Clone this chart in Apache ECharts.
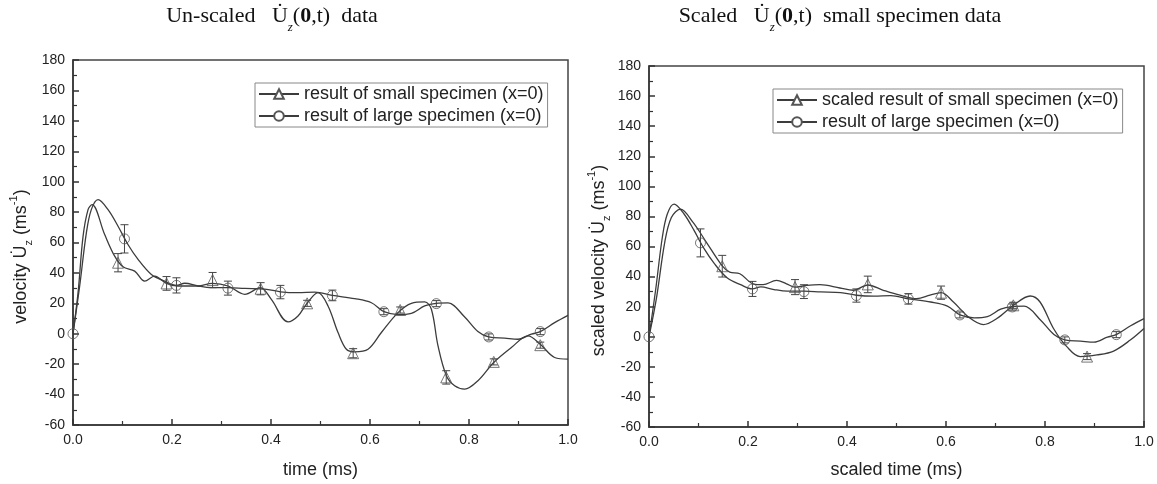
<!DOCTYPE html>
<html><head><meta charset="utf-8">
<script src="https://cdn.jsdelivr.net/npm/echarts@6/dist/echarts.min.js"></script>
<style>html,body{margin:0;padding:0;background:#fff}#c{width:1157px;height:484px}</style>
</head><body><div id="c"></div>
<script>
// ---------------- data ----------------
const xTicks = [0, 0.2, 0.4, 0.6, 0.8, 1.0];
const yTicks = [-60, -40, -20, 0, 20, 40, 60, 80, 100, 120, 140, 160, 180];

const leftTitle = 'Un-scaled';
const rightTitle = 'Scaled';
const leftTitleTail = 'data';
const rightTitleTail = 'small specimen data';

const nameSmall = 'result of small specimen (x=0)';
const nameLarge = 'result of large specimen (x=0)';
const nameScaledSmall = 'scaled result of small specimen (x=0)';

// smooth curves [time, velocity]
const smallCurve = [[0,0],[0.0102,27],[0.0203,64],[0.0304,81.6],[0.0385,84.9],[0.064,65.2],[0.0842,51],[0.101,44],[0.1246,41.2],[0.1448,34.6],[0.165,37.9],[0.1886,33.1],[0.212,31.4],[0.2526,31.4],[0.2815,33.1],[0.3134,31.4],[0.347,25.9],[0.3785,30.3],[0.4007,22.6],[0.4344,7.8],[0.4546,11.7],[0.4727,20],[0.495,27],[0.5152,18.3],[0.5354,0.8],[0.5523,-10.2],[0.569,-11.9],[0.596,-10.2],[0.623,0.8],[0.6566,13.9],[0.6836,20],[0.7105,20.9],[0.724,16.1],[0.7374,-8],[0.7543,-27.6],[0.771,-34.2],[0.7913,-36.4],[0.818,-30.9],[0.85,-18.9],[0.8856,-9.1],[0.919,-1.4],[0.944,-6.9],[0.973,-15.6],[1.0,-16.7]];
const largeCurve = [[0,0],[0.0135,31.4],[0.027,66.3],[0.037,81.6],[0.0506,88.2],[0.0708,81.6],[0.091,70.7],[0.111,58.7],[0.1314,48.9],[0.1583,39],[0.185,34.6],[0.2088,31.8],[0.2257,33.2],[0.2526,31.4],[0.2795,30.3],[0.3134,30.3],[0.347,29.8],[0.3873,29.4],[0.419,27.6],[0.4546,27],[0.4883,27.4],[0.524,25.2],[0.569,23.1],[0.6028,20.4],[0.6283,14.5],[0.6566,12.6],[0.6836,13.4],[0.7105,18.3],[0.734,20],[0.7576,20.3],[0.7913,11],[0.818,1.5],[0.8398,-2.1],[0.872,-2.9],[0.899,-3.6],[0.926,-0.3],[0.944,1.4],[0.973,7.3],[1.0,12.1]];
const scaledSmallCurve = [[0,0],[0.0149,25.3],[0.0318,62.8],[0.0452,79.3],[0.0634,84.8],[0.089,76],[0.116,62.8],[0.1484,46.9],[0.163,43],[0.1835,41.9],[0.2105,35.2],[0.2306,34.6],[0.2576,37.5],[0.2778,35.2],[0.2947,33],[0.3183,34.1],[0.3453,34.6],[0.3857,32.4],[0.4127,30.9],[0.4417,34.4],[0.4733,30.9],[0.507,27.6],[0.5408,25.3],[0.5678,27.6],[0.59,29.3],[0.615,23.1],[0.6453,13.2],[0.6757,8.1],[0.7026,12.1],[0.7363,20.9],[0.77,27.1],[0.79,23.1],[0.8172,5.5],[0.844,-6.6],[0.871,-13.2],[0.905,-12.1],[0.9386,-9.5],[0.9723,-2.2],[1.0,5.5]];

// markers with error bars
const smallMarkT = [0.091, 0.189, 0.282, 0.379, 0.473, 0.566, 0.661, 0.754, 0.850, 0.944];
const smallMarkV = [46.7, 33.1, 35.3, 29.6, 20, -12.8, 15.6, -28.7, -18.5, -7.5];
const smallMarkE = [6, 4.5, 5, 4, 2, 3, 2, 4.4, 2, 2];
const largeMarkT = [0, 0.104, 0.209, 0.313, 0.419, 0.524, 0.628, 0.734, 0.840, 0.944];
const largeMarkV = [0, 62.4, 31.8, 30, 27.4, 25.2, 14.5, 19.8, -2.1, 1.4];
const largeMarkE = [0, 9.3, 5, 4.6, 4.4, 3.5, 2, 2, 2, 2];
const scaledMarkT = [0.148, 0.295, 0.442, 0.590, 0.736, 0.885];
const scaledMarkV = [46.9, 33, 34.8, 29.3, 20.9, -13.2];
const scaledMarkE = [7.2, 5, 5.5, 4.4, 2, 2];

// ---------------- chart ----------------
const FF = "'Liberation Sans', Arial, 'DejaVu Sans', sans-serif";
const TF = "'Liberation Serif', 'Times New Roman', serif";
const LINE = '#3c3c3c', MARK = '#555';

function xAx(gi, name, gap) {
  return {type:'value', gridIndex:gi, min:xTicks[0], max:xTicks[xTicks.length-1], interval:xTicks[1]-xTicks[0],
    name:name, nameLocation:'middle', nameGap:gap,
    nameTextStyle:{fontSize:18, color:'#222', fontFamily:FF},
    axisLine:{show:true, onZero:false, lineStyle:{color:'#333', width:1.5}},
    axisTick:{show:true, inside:true, length:6, lineStyle:{color:'#333', width:1.5}},
    minorTick:{show:true, splitNumber:2, length:4, lineStyle:{color:'#333', width:1.2}},
    axisLabel:{fontSize:14, color:'#222', fontFamily:FF, margin:8, formatter:v=>v.toFixed(1)},
    splitLine:{show:false}};
}
function yAx(gi, prefix, gap) {
  return {type:'value', gridIndex:gi, min:yTicks[0], max:yTicks[yTicks.length-1], interval:yTicks[1]-yTicks[0],
    name: prefix + '{u|U\u0307}{s|z} (ms{p|-1})', nameLocation:'middle', nameGap:gap,
    nameTextStyle:{fontSize:18, color:'#222', fontFamily:FF, lineHeight:26, padding:[0,28,0,0],
      rich:{u:{fontSize:18, fontFamily:FF, color:'#222', lineHeight:26},
            s:{fontSize:11, fontFamily:FF, color:'#222', lineHeight:11, verticalAlign:'bottom'},
            p:{fontSize:11, fontFamily:FF, color:'#222', lineHeight:11, verticalAlign:'top'}}},
    axisLine:{show:true, onZero:false, lineStyle:{color:'#333', width:1.5}},
    axisTick:{show:true, inside:true, length:6, lineStyle:{color:'#333', width:1.5}},
    minorTick:{show:true, splitNumber:2, length:4, lineStyle:{color:'#333', width:1.2}},
    axisLabel:{fontSize:14, color:'#222', fontFamily:FF, margin:8},
    splitLine:{show:false}};
}
function curve(gi, name, data, sym) {
  return {type:'line', name:name, xAxisIndex:gi, yAxisIndex:gi, data:data, smooth:0.35,
    showSymbol:false, symbol:sym, symbolSize:11, silent:true, z:2,
    lineStyle:{color:LINE, width:1.3}, itemStyle:{color:MARK, borderColor:MARK, borderWidth:1}};
}
function marks(gi, T, V, sym, size) {
  return {type:'scatter', xAxisIndex:gi, yAxisIndex:gi, symbol:sym, symbolSize:size, silent:true, z:4,
    data:T.map((t,i)=>[t, V[i]]),
    itemStyle:{color:'rgba(255,255,255,0)', borderColor:MARK, borderWidth:1}};
}
function errs(gi, T, V, E) {
  return {type:'custom', xAxisIndex:gi, yAxisIndex:gi, silent:true, z:3,
    data:T.map((t,i)=>[t, V[i]-E[i], V[i]+E[i]]).filter((d,i)=>E[i]>0),
    renderItem:function(params, api){
      const lo = api.coord([api.value(0), api.value(1)]);
      const hi = api.coord([api.value(0), api.value(2)]);
      const w = 4, st = {stroke:'#444', lineWidth:1};
      return {type:'group', children:[
        {type:'line', shape:{x1:lo[0], y1:lo[1], x2:hi[0], y2:hi[1]}, style:st},
        {type:'line', shape:{x1:lo[0]-w, y1:lo[1], x2:lo[0]+w, y2:lo[1]}, style:st},
        {type:'line', shape:{x1:hi[0]-w, y1:hi[1], x2:hi[0]+w, y2:hi[1]}, style:st}
      ]};
    }};
}
function titleText(x, head, tail) {
  return {type:'text', x:x, y:16, silent:true, style:{
    text: head + '   {u|U\u0307}{z|z}{n|(}{b|0}{n|,t)}  ' + tail,
    font: '22px ' + TF, fill:'#111', align:'center', verticalAlign:'middle', lineHeight:36,
    rich:{u:{fontSize:22, fontFamily:TF, lineHeight:36, fill:'#111'},
          z:{fontSize:13, fontFamily:TF, fontStyle:'italic', lineHeight:13, verticalAlign:'bottom', fill:'#111'},
          n:{fontSize:22, fontFamily:TF, lineHeight:36, fill:'#111'},
          b:{fontSize:22, fontFamily:TF, fontWeight:'bold', lineHeight:36, fill:'#111'}}}};
}
const legendBase = {orient:'vertical', itemWidth:40, itemHeight:12, itemGap:4, padding:[2,4,2,3],
  borderColor:'#888', borderWidth:1, backgroundColor:'#fff',
  textStyle:{fontSize:18, color:'#222', fontFamily:FF}, selectedMode:false};

const chart = echarts.init(document.getElementById('c'));
chart.setOption({
  animation:false,
  backgroundColor:'#fff',
  grid:[
    {left:73, top:60, width:495, height:366, show:true, borderColor:'#444', borderWidth:1.5},
    {left:649, top:66, width:495, height:363, show:true, borderColor:'#444', borderWidth:1.5}
  ],
  xAxis:[xAx(0, 'time (ms)', 36), xAx(1, 'scaled time (ms)', 34)],
  yAxis:[yAx(0, 'velocity ', 39), yAx(1, 'scaled velocity ', 37)],
  legend:[
    Object.assign({left:255, top:83, data:[nameSmall, nameLarge]}, legendBase),
    Object.assign({left:773, top:89, data:[nameScaledSmall, nameLarge]}, legendBase)
  ],
  graphic:[titleText(272, leftTitle, leftTitleTail), titleText(840, rightTitle, rightTitleTail)],
  series:[
    curve(0, nameSmall, smallCurve, 'emptyTriangle'),
    curve(0, nameLarge, largeCurve, 'emptyCircle'),
    errs(0, smallMarkT, smallMarkV, smallMarkE),
    errs(0, largeMarkT, largeMarkV, largeMarkE),
    marks(0, smallMarkT, smallMarkV, 'triangle', 11),
    marks(0, largeMarkT, largeMarkV, 'circle', 10),
    curve(1, nameScaledSmall, scaledSmallCurve, 'emptyTriangle'),
    curve(1, nameLarge, largeCurve, 'emptyCircle'),
    errs(1, scaledMarkT, scaledMarkV, scaledMarkE),
    errs(1, largeMarkT, largeMarkV, largeMarkE),
    marks(1, scaledMarkT, scaledMarkV, 'triangle', 11),
    marks(1, largeMarkT, largeMarkV, 'circle', 10)
  ]
});
</script>
</body></html>
